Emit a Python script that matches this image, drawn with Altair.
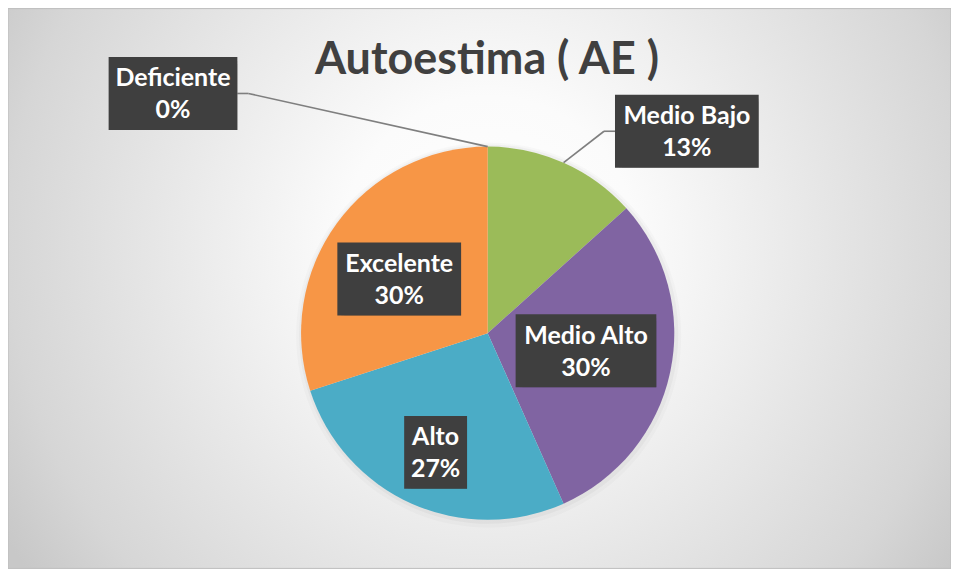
import altair as alt
import pandas as pd

# ---- data (30 respondents) ----
categories = ["Deficiente", "Medio Bajo", "Medio Alto", "Alto", "Excelente"]
counts = [0, 4, 9, 8, 9]
colors = ["#C0504D", "#9BBB59", "#8064A2", "#4BACC6", "#F79646"]

# ---- label layout (like Excel's manual label placement) ----
label_r = [2.12, 1.52, 0.535, 0.697, 0.556]      # distance as fraction of radius
label_shift = [-52.7, 20.6, -1.9, -0.4, -4.5]    # degrees from slice mid-angle
box_w = [129, 144, 141, 63, 124]                 # box widths, px

W, H = 945, 561
CX, CY, R = 480.7, 325.3, 187
BOX_H = 73
FONT = "Lato"

df = pd.DataFrame({"cat": categories, "n": counts, "idx": list(range(len(categories))),
                   "lr": label_r, "ls": label_shift, "bw": box_w})
base = alt.Chart(df)
one = alt.Data(values=[{}])

# background: circular radial gradient (square rect, clipped to view)
bg = alt.Chart(one).mark_rect(
    clip=True,
    fill=alt.RadialGradient(
        gradient="radial", x1=0.51, y1=0.5, x2=0.51, y2=0.5, r1=0, r2=0.6,
        stops=[alt.GradientStop(offset=0, color="#ffffff"),
               alt.GradientStop(offset=0.26, color="#fbfbfb"),
               alt.GradientStop(offset=0.5, color="#ececec"),
               alt.GradientStop(offset=0.85, color="#d6d6d6"),
               alt.GradientStop(offset=1, color="#c8c8c8")]),
).encode(x=alt.value(0), x2=alt.value(W), y=alt.value(H / 2 - 45 - W / 2), y2=alt.value(H / 2 - 45 + W / 2))

border = alt.Chart(one).mark_rect(fill="transparent", stroke="#bdbdbd", strokeWidth=1).encode(
    x=alt.value(0), x2=alt.value(W), y=alt.value(0), y2=alt.value(H))

shadow1 = alt.Chart(one).mark_arc(theta=0, theta2=6.2832, radius=R + 6, color="#000000", opacity=0.02).encode(
    x=alt.value(CX + 1), y=alt.value(CY + 2))
shadow2 = alt.Chart(one).mark_arc(theta=0, theta2=6.2832, radius=R + 3, color="#000000", opacity=0.03).encode(
    x=alt.value(CX + 1), y=alt.value(CY + 1))

pie = base.mark_arc(radius=R).encode(
    theta=alt.Theta("n:Q", stack=True),
    color=alt.Color("cat:N", scale=alt.Scale(domain=categories, range=colors), legend=None),
    order=alt.Order("idx:Q"),
    x=alt.value(CX), y=alt.value(CY),
)

lab = base.transform_joinaggregate(total="sum(n)").transform_window(
    cum="sum(n)", sort=[alt.SortField("idx")], frame=[None, 0]
).transform_calculate(
    mid="(datum.cum - datum.n/2)/datum.total*2*PI",
).transform_calculate(
    ang="datum.mid + datum.ls*PI/180",
    ax=f"{CX} + {R}*sin(datum.mid)",
    ay=f"{CY} - {R}*cos(datum.mid)",
    label="datum.cat + '\\n' + format(datum.n/datum.total, '.0%')",
).transform_calculate(
    bx=f"{CX} + datum.lr*{R}*sin(datum.ang)",
    by=f"{CY} - datum.lr*{R}*cos(datum.ang)",
).transform_calculate(
    bx1="datum.bx - datum.bw/2",
    bx2="datum.bx + datum.bw/2",
    by1=f"datum.by - {BOX_H / 2}",
    by2=f"datum.by + {BOX_H / 2}",
).transform_calculate(
    edge=f"datum.bx > {CX} ? datum.bx1 : datum.bx2",
    ex=f"datum.bx > {CX} ? datum.bx1 - 11 : datum.bx2 + 11",
)

def px(f):
    return alt.X(f"{f}:Q", scale=None, axis=None)

def py(f):
    return alt.Y(f"{f}:Q", scale=None, axis=None)

outside = lab.transform_filter("datum.lr > 1")
lead1 = outside.mark_rule(color="#7f7f7f", strokeWidth=1.6).encode(
    x=px("ax"), y=py("ay"), x2="ex:Q", y2="by:Q")
lead2 = outside.mark_rule(color="#7f7f7f", strokeWidth=1.6).encode(
    x=px("ex"), y=py("by"), x2="edge:Q", y2="by:Q")

bshadow1 = lab.mark_rect(color="#000000", opacity=0.12, xOffset=7, yOffset=7).encode(
    x=px("bx1"), x2="bx2:Q", y=py("by1"), y2="by2:Q")
bshadow2 = lab.mark_rect(color="#000000", opacity=0.15, xOffset=4, yOffset=4).encode(
    x=px("bx1"), x2="bx2:Q", y=py("by1"), y2="by2:Q")
box = lab.mark_rect(color="#3f3f3f").encode(
    x=px("bx1"), x2="bx2:Q", y=py("by1"), y2="by2:Q")
txt = lab.mark_text(font=FONT, fontWeight="bold", fontSize=25, color="#ffffff",
                    lineBreak="\n", lineHeight=32, baseline="middle", align="center", dy=-15).encode(
    x=px("bx"), y=py("by"), text="label:N")

title = alt.Chart(one).mark_text(text="Autoestima ( AE )", font=FONT, fontWeight="bold",
                                 fontSize=45, color="#404040", baseline="middle", align="center").encode(
    x=alt.value(480), y=alt.value(52))

chart = alt.layer(bg, border, shadow1, shadow2, pie, lead1, lead2, bshadow1, bshadow2, box, txt, title).properties(
    width=W, height=H, padding=0, autosize="none"
).configure_view(stroke="transparent")

chart.save("out.html", embed_options={"renderer": "svg", "actions": False})
